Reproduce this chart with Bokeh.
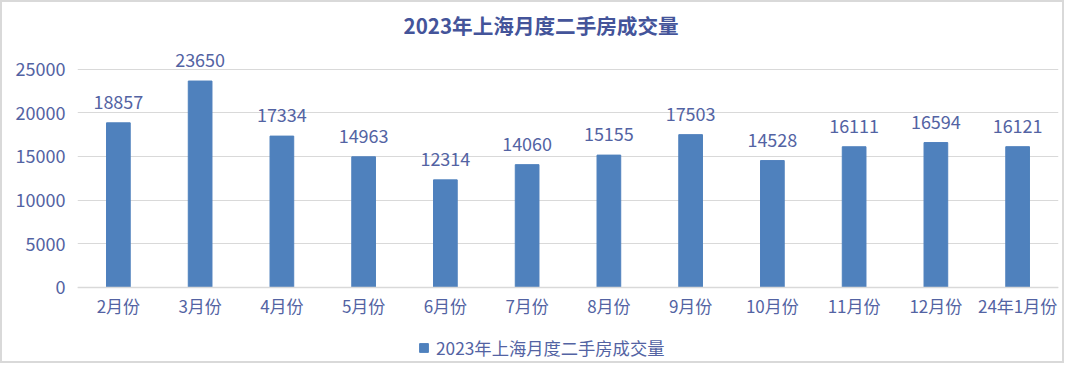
from bokeh.plotting import figure
from bokeh.models import ColumnDataSource, FixedTicker, Legend, LegendItem, LabelSet, Title
from bokeh.core.properties import value
from bokeh.embed import file_html
from bokeh.resources import INLINE

months = ["2月份", "3月份", "4月份", "5月份", "6月份", "7月份", "8月份", "9月份",
          "10月份", "11月份", "12月份", "24年1月份"]
volumes = [18857, 23650, 17334, 14963, 12314, 14060, 15155, 17503, 14528, 16111, 16594, 16121]
y_ticks = [0, 5000, 10000, 15000, 20000, 25000]
series_name = "2023年上海月度二手房成交量"

FONT = "Noto Sans CJK SC"
TXT = "#5363A3"
BAR = "#4F81BD"
GRID = "#D9D9D9"

src = ColumnDataSource(dict(m=months, v=volumes, lab=[str(v) for v in volumes]))

p = figure(x_range=months, y_range=(-8977, 27840), width=1064, height=363,
           output_backend="svg", toolbar_location=None,
           min_border_left=75, min_border_right=8, min_border_top=38, min_border_bottom=0)
p.x_range.range_padding = 0

p.title = Title(text=series_name, align="left", text_font=FONT, text_font_size="20.6px",
                text_font_style="bold", text_color="#44549A", offset=326)

r = p.vbar(x="m", top="v", bottom=0, width=0.29, color=BAR, source=src)

labels = LabelSet(x="m", y="v", text="lab", source=src, text_align="center",
                  text_baseline="middle", y_offset=21, text_font=value(FONT),
                  text_font_size=value("18px"), text_color=value(TXT))
p.add_layout(labels)

p.outline_line_color = None
p.xgrid.grid_line_color = None
p.ygrid.grid_line_color = GRID
p.ygrid.grid_line_width = 1

p.yaxis.ticker = FixedTicker(ticks=y_ticks)
p.yaxis.axis_line_color = None
p.yaxis.major_tick_line_color = None
p.yaxis.minor_tick_line_color = None
p.yaxis.major_tick_out = 0
p.yaxis.major_tick_in = 0
p.yaxis.major_label_text_font = FONT
p.yaxis.major_label_text_font_size = "18px"
p.yaxis.major_label_text_color = TXT
p.yaxis.major_label_standoff = 12

p.xaxis.fixed_location = 0
p.xaxis.axis_line_color = GRID
p.xaxis.axis_line_width = 1.5
p.xaxis.major_tick_line_color = None
p.xaxis.minor_tick_line_color = None
p.xaxis.major_tick_out = 0
p.xaxis.major_tick_in = 0
p.xaxis.major_label_text_font = FONT
p.xaxis.major_label_text_font_size = "17px"
p.xaxis.major_label_text_color = TXT
p.xaxis.major_label_standoff = 6

legend = Legend(items=[LegendItem(label=series_name, renderers=[r])],
                location=(341, 5), orientation="horizontal",
                label_text_font=FONT, label_text_font_size="17.3px", label_text_color=TXT,
                glyph_width=11, glyph_height=11, label_standoff=7,
                padding=0, margin=0,
                border_line_color=None, background_fill_alpha=0)
p.add_layout(legend, "center")

p.styles = {"border": "2px solid #D9D9D9"}

open("out.html", "w").write(file_html(p, INLINE))
